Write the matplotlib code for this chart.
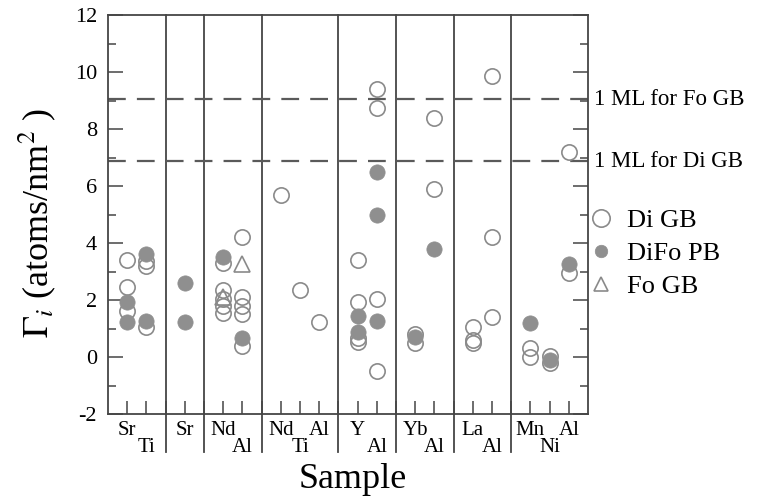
import matplotlib
matplotlib.use("Agg")
import matplotlib.pyplot as plt
import numpy as np

plt.rcParams['font.family'] = ['Liberation Serif', 'DejaVu Serif']
plt.rcParams['mathtext.fontset'] = 'stix'
plt.rcParams['axes.unicode_minus'] = False

# ---- data ----
group_labels = [['Sr', 'Ti'], ['Sr'], ['Nd', 'Al'], ['Nd', 'Ti', 'Al'],
                ['Y', 'Al'], ['Yb', 'Al'], ['La', 'Al'], ['Mn', 'Ni', 'Al']]
# label row: 0 = upper row, 1 = lower row
label_rows = [0, 1, 0, 0, 1, 0, 1, 0, 0, 1, 0, 1, 0, 1, 0, 1, 0]

# category index (0..16) and values for each series
di_cat = [0, 0, 0, 1, 1, 1, 3, 3, 3, 3, 3, 4, 4, 4, 4, 4, 5, 6, 7,
          8, 8, 8, 8, 9, 9, 9, 9, 10, 10, 11, 11, 12, 12, 12,
          13, 13, 13, 14, 14, 15, 15, 16, 16]
di_val = [3.4, 2.45, 1.6, 3.38, 3.2, 1.06, 3.3, 2.35, 2.05, 1.8, 1.55,
          4.2, 2.1, 1.8, 1.5, 0.4, 5.7, 2.35, 1.22,
          3.4, 1.92, 0.68, 0.52, 9.4, 8.75, 2.05, -0.5, 0.8, 0.5, 8.37, 5.9,
          1.05, 0.6, 0.48, 9.87, 4.2, 1.42, 0.33, 0.0, 0.05, -0.22, 7.2, 2.95]

difo_cat = [0, 0, 1, 1, 2, 2, 3, 4, 8, 8, 9, 9, 9, 10, 11, 14, 15, 16]
difo_val = [1.92, 1.22, 3.6, 1.25, 2.6, 1.22, 3.5, 0.65, 1.45, 0.88,
            6.5, 4.98, 1.25, 0.7, 3.78, 1.2, -0.1, 3.25]

fo_cat = [3, 4]
fo_val = [2.12, 3.25]

ml_levels = [9.05, 6.87]
ml_labels = ['1 ML for Fo GB', '1 ML for Di GB']

# ---- positions from groups ----
positions = []
separators = []
pos = 1
for gi, g in enumerate(group_labels):
    for _ in g:
        positions.append(pos)
        pos += 1
    if gi < len(group_labels) - 1:
        separators.append(pos)
        pos += 1
xmax = pos
cat_names = [l for g in group_labels for l in g]
positions = np.array(positions)

fig = plt.figure(figsize=(7.61, 4.97), dpi=100)
ax = fig.add_axes([108/761, 1 - 414/497, 480/761, 399/497])

line_c = '#454545'
open_c = '#8a8a8a'
fill_c = '#8f8f8f'

ax.set_xlim(0, xmax)
ax.set_ylim(-2, 12)

# separators (extend below axes)
for s in separators:
    ax.axvline(s, ymin=-0.095, ymax=1, color=line_c, lw=1.3, clip_on=False, zorder=1)

# dashed monolayer lines
for lvl, lab in zip(ml_levels, ml_labels):
    ax.axhline(lvl, color='#5a5a5a', lw=1.6, ls=(0, (8, 5)), zorder=1)
    ax.text(1.0125, lvl, lab, transform=ax.get_yaxis_transform(),
            ha='left', va='center', fontsize=16.5)

h1, = ax.plot(positions[di_cat], di_val, 'o', ms=11, mfc='none', mec=open_c,
              mew=1.2, ls='none', label='Di GB', zorder=3)
h3, = ax.plot(positions[fo_cat], fo_val, '^', ms=12, mfc='none', mec=open_c,
              mew=1.2, ls='none', label='Fo GB', zorder=3)
h2, = ax.plot(positions[difo_cat], difo_val, 'o', ms=11, mfc=fill_c, mec=fill_c,
              mew=0.5, ls='none', label='DiFo PB', zorder=4)

leg = ax.legend(handles=[h1, h2, h3], loc='upper left',
                bbox_to_anchor=(1.005, 0.515), frameon=False, fontsize=19,
                handlelength=0.8, handletextpad=0.6, labelspacing=0.36,
                borderpad=0, borderaxespad=0)
for lh, ms in zip(leg.legend_handles, [12.5, 9, 10.5]):
    lh.set_markersize(ms)

# ticks
ax.set_yticks(np.arange(-2, 13, 2))
ax.set_yticks(np.arange(-2, 13, 1), minor=True)
ax.tick_params(axis='y', which='major', direction='in', length=11, width=1.1,
               right=True, labelsize=16, pad=8, color=line_c)
ax.tick_params(axis='y', which='minor', direction='in', length=5.5, width=1.1,
               right=True, color=line_c)
ax.set_xticks(np.arange(1, xmax))
ax.set_xticklabels([])
ax.tick_params(axis='x', which='major', direction='in', length=9.5, width=1.1,
               color=line_c)

for sp in ax.spines.values():
    sp.set_color(line_c)
    sp.set_linewidth(1.3)

# category labels in two rows
xtrans = ax.get_xaxis_transform()
for p, name, row in zip(positions, cat_names, label_rows):
    ax.text(p, -0.0526 if row == 0 else -0.095, name, transform=xtrans,
            ha='center', va='baseline', fontsize=15)

ax.text(0.51, -0.185, 'Sample', transform=ax.transAxes, ha='center',
        va='baseline', fontsize=26)
ax.text(-0.125, 0.479, r'$\Gamma_i$ (atoms/nm$^2$ )', transform=ax.transAxes,
        rotation=90, rotation_mode='anchor', ha='center', va='baseline',
        fontsize=26)

fig.savefig('out.png', dpi=100)
